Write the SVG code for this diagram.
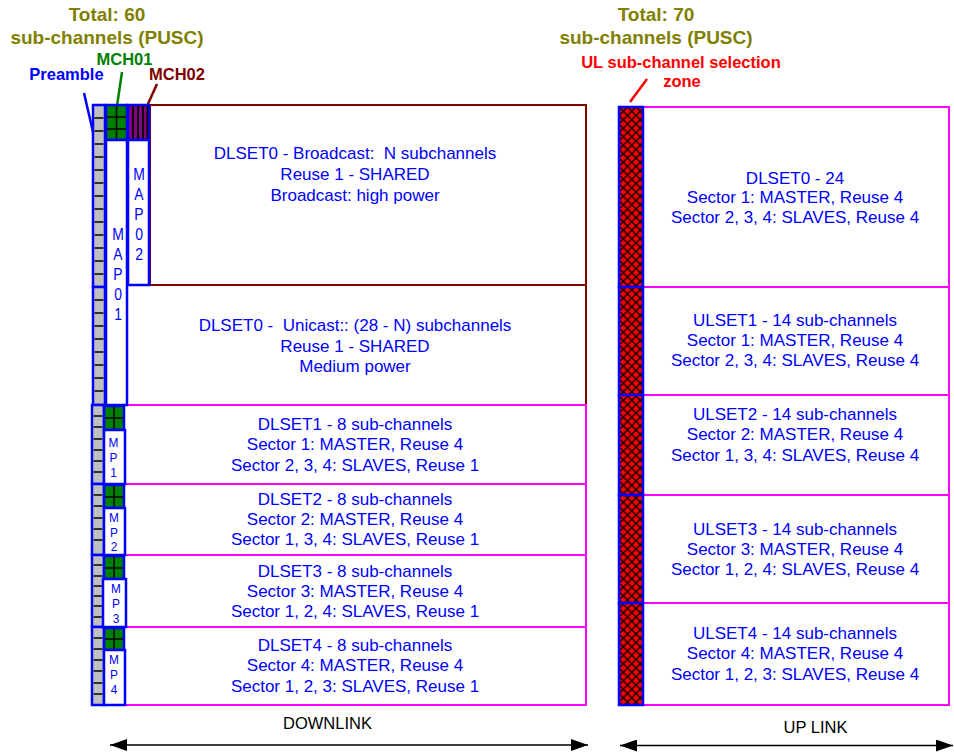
<svg xmlns="http://www.w3.org/2000/svg" width="954" height="753" viewBox="0 0 954 753">
<defs>
<style>
.dr{fill:#fff;stroke:#800000;stroke-width:2}
.mg{fill:#fff;stroke:#FF00FF;stroke-width:2}
.blw{fill:#fff;stroke:#0000FF;stroke-width:2.5}
.gy{fill:#C0C0C0;stroke:#0000FF;stroke-width:2.5}
.gr{fill:#008000;stroke:#0000FF;stroke-width:2.5}
.pu{fill:#800080;stroke:#0000FF;stroke-width:2.5}
.hz{fill:url(#hatch);stroke:#0000FF;stroke-width:2.5}
.k{stroke:#000;stroke-width:1.5;fill:none}
text{font-family:"Liberation Sans",Arial,Helvetica,sans-serif}
.t{font-size:17px;fill:#0000FF;text-anchor:middle}
.ttl{font-size:19px;font-weight:bold;fill:#808000;text-anchor:middle}
.lb{font-size:16.5px;font-weight:bold;text-anchor:middle}
.v{font-size:17px;fill:#0000FF;text-anchor:middle}
.vs{font-size:12.5px;fill:#0000FF;text-anchor:middle}
.ax{font-size:16.5px;fill:#000;text-anchor:middle}
.ld{stroke-width:2.5;fill:none}
.arr{stroke:#000;stroke-width:1.5;fill:none;marker-start:url(#ah);marker-end:url(#ah)}
</style>
<pattern id="hatch" patternUnits="userSpaceOnUse" width="8.5" height="8.5" x="619" y="107">
<rect width="8.5" height="8.5" fill="#FF0000"/>
<path d="M0,0 L8.5,8.5 M8.5,0 L0,8.5" stroke="#000" stroke-width="1.4"/>
</pattern>
<marker id="ah" markerUnits="userSpaceOnUse" markerWidth="18" markerHeight="12" refX="17" refY="6" orient="auto-start-reverse" viewBox="0 0 18 12">
<path d="M0,0 L17,6 L0,12 z" fill="#000"/>
</marker>
</defs>

<!-- titles and labels -->
<g id="titles">
<text class="ttl" x="107" y="21">Total: 60</text>
<text class="ttl" x="107" y="44">sub-channels (PUSC)</text>
<text class="ttl" x="656" y="21">Total: 70</text>
<text class="ttl" x="656" y="44">sub-channels (PUSC)</text>
<text class="lb" x="124.5" y="65" fill="#008000">MCH01</text>
<text class="lb" x="66.5" y="80" fill="#0000FF">Preamble</text>
<text class="lb" x="177" y="80" fill="#800000">MCH02</text>
<text class="lb" x="681" y="68" fill="#FF0000">UL sub-channel selection</text>
<text class="lb" x="682" y="87" fill="#FF0000">zone</text>
</g>

<!-- connectors: leader lines and direction arrows -->
<g id="connectors">
<line class="ld" x1="84" y1="93" x2="93" y2="132" stroke="#0000FF"/>
<line class="ld" x1="122" y1="72" x2="117" y2="106" stroke="#008000"/>
<line class="ld" x1="157" y1="84" x2="147" y2="106" stroke="#800000"/>
<line class="ld" x1="647" y1="79" x2="630" y2="102" stroke="#FF0000"/>
<line class="arr" x1="110" y1="745" x2="588" y2="745"/>
<line class="arr" x1="620" y1="745.5" x2="953" y2="745.5"/>
</g>

<!-- downlink sets -->
<g id="dlset0-broadcast">
<rect class="dr" x="150" y="105" width="436" height="180"/>
<text class="t" x="355" y="159" xml:space="preserve">DLSET0 - Broadcast:  N subchannels</text>
<text class="t" x="355" y="180">Reuse 1 - SHARED</text>
<text class="t" x="355" y="201">Broadcast: high power</text>
</g>
<g id="dlset0-unicast">
<rect class="dr" x="127" y="285" width="459" height="120"/>
<text class="t" x="355" y="331" xml:space="preserve">DLSET0 -  Unicast:: (28 - N) subchannels</text>
<text class="t" x="355" y="352">Reuse 1 - SHARED</text>
<text class="t" x="355" y="372">Medium power</text>
</g>
<g id="dlset1">
<rect class="mg" x="124" y="405" width="462" height="79"/>
<text class="t" x="355" y="430">DLSET1 - 8 sub-channels</text>
<text class="t" x="355" y="450">Sector 1: MASTER, Reuse 4</text>
<text class="t" x="355" y="471">Sector 2, 3, 4: SLAVES, Reuse 1</text>
</g>
<g id="dlset2">
<rect class="mg" x="124" y="484" width="462" height="71"/>
<text class="t" x="355" y="505">DLSET2 - 8 sub-channels</text>
<text class="t" x="355" y="525">Sector 2: MASTER, Reuse 4</text>
<text class="t" x="355" y="545">Sector 1, 3, 4: SLAVES, Reuse 1</text>
</g>
<g id="dlset3">
<rect class="mg" x="124" y="555" width="462" height="72"/>
<text class="t" x="355" y="577">DLSET3 - 8 sub-channels</text>
<text class="t" x="355" y="597">Sector 3: MASTER, Reuse 4</text>
<text class="t" x="355" y="617">Sector 1, 2, 4: SLAVES, Reuse 1</text>
</g>
<g id="dlset4">
<rect class="mg" x="124" y="627" width="462" height="78"/>
<text class="t" x="355" y="651">DLSET4 - 8 sub-channels</text>
<text class="t" x="355" y="671">Sector 4: MASTER, Reuse 4</text>
<text class="t" x="355" y="692">Sector 1, 2, 3: SLAVES, Reuse 1</text>
</g>

<!-- preamble column -->
<g id="preamble">
<rect class="gy" x="93" y="105" width="12" height="182"/>
<rect class="gy" x="93" y="287" width="12" height="118"/>
<rect class="gy" x="92" y="405" width="12" height="79"/>
<rect class="gy" x="92" y="484" width="12" height="71"/>
<rect class="gy" x="92" y="555" width="12" height="72"/>
<rect class="gy" x="92" y="627" width="12" height="78"/>
<path class="k" d="M94.5,118h9M94.5,131h9M94.5,144h9M94.5,157h9M94.5,170h9M94.5,183h9M94.5,196h9M94.5,209h9M94.5,222h9M94.5,235h9M94.5,248h9M94.5,261h9M94.5,274h9
M94.5,300h9M94.5,313h9M94.5,326h9M94.5,339h9M94.5,352h9M94.5,365h9M94.5,378h9M94.5,391h9
M93.5,416h9M93.5,427h9M93.5,439h9M93.5,450h9M93.5,461h9M93.5,472h9
M93.5,495h9M93.5,506h9M93.5,518h9M93.5,529h9M93.5,540h9
M93.5,565h9M93.5,576h9M93.5,586h9M93.5,596h9M93.5,606h9M93.5,617h9
M93.5,638h9M93.5,649h9M93.5,660h9M93.5,671h9M93.5,683h9M93.5,694h9"/>
</g>

<!-- MCH01 / MAP01 -->
<g id="mch01">
<rect class="gr" x="106" y="105" width="21" height="35"/>
<path class="k" d="M116.5,106v33M107,117h19M107,129h19"/>
</g>
<g id="map01">
<rect class="blw" x="106" y="140" width="21" height="265"/>
<text class="v" transform="translate(118,0) scale(0.82,1)"><tspan x="0" y="240">M</tspan><tspan x="0" y="260">A</tspan><tspan x="0" y="280">P</tspan><tspan x="0" y="300">0</tspan><tspan x="0" y="320">1</tspan></text>
</g>

<!-- MCH02 / MAP02 -->
<g id="mch02">
<rect class="pu" x="128" y="105" width="21" height="35"/>
<path d="M133,106v33M138,106v33M143,106v33M147.5,106v33" stroke="#000" stroke-width="1.8"/>
</g>
<g id="map02">
<rect class="blw" x="128" y="140" width="21" height="145"/>
<text class="v" transform="translate(139,0) scale(0.82,1)"><tspan x="0" y="180">M</tspan><tspan x="0" y="200">A</tspan><tspan x="0" y="220">P</tspan><tspan x="0" y="240">0</tspan><tspan x="0" y="260">2</tspan></text>
</g>

<!-- lower row MCH / MP blocks -->
<g id="mp1">
<rect class="gr" x="104" y="406" width="20" height="24"/>
<path class="k" d="M114,407v22M105,418h18"/>
<rect class="blw" x="104" y="430" width="21" height="54"/>
<text class="vs" transform="translate(113.5,0) scale(0.95,1)"><tspan x="0" y="447">M</tspan><tspan x="0" y="462">P</tspan><tspan x="0" y="477">1</tspan></text>
</g>
<g id="mp2">
<rect class="gr" x="104" y="485" width="20" height="23"/>
<path class="k" d="M114,486v21M105,497h18"/>
<rect class="blw" x="104" y="508" width="21" height="47"/>
<text class="vs" transform="translate(114,0) scale(0.95,1)"><tspan x="0" y="522">M</tspan><tspan x="0" y="537">P</tspan><tspan x="0" y="551">2</tspan></text>
</g>
<g id="mp3">
<rect class="gr" x="104" y="556" width="20" height="23"/>
<path class="k" d="M114,557v21M105,568h18"/>
<rect class="blw" x="103" y="579" width="23" height="48"/>
<text class="vs" transform="translate(116,0) scale(0.95,1)"><tspan x="0" y="593">M</tspan><tspan x="0" y="608">P</tspan><tspan x="0" y="623">3</tspan></text>
</g>
<g id="mp4">
<rect class="gr" x="104" y="628" width="20" height="22"/>
<path class="k" d="M114,629v20M105,639h18"/>
<rect class="blw" x="104" y="650" width="21" height="55"/>
<text class="vs" transform="translate(114,0) scale(0.95,1)"><tspan x="0" y="664">M</tspan><tspan x="0" y="679">P</tspan><tspan x="0" y="694">4</tspan></text>
</g>

<!-- uplink -->
<g id="ul-dlset0">
<rect class="mg" x="643" y="107" width="306" height="180"/>
<text class="t" x="795" y="184">DLSET0 - 24</text>
<text class="t" x="795" y="203">Sector 1: MASTER, Reuse 4</text>
<text class="t" x="795" y="223">Sector 2, 3, 4: SLAVES, Reuse 4</text>
</g>
<g id="ulset1">
<rect class="mg" x="643" y="287" width="306" height="108"/>
<text class="t" x="795" y="326">ULSET1 - 14 sub-channels</text>
<text class="t" x="795" y="346">Sector 1: MASTER, Reuse 4</text>
<text class="t" x="795" y="366">Sector 2, 3, 4: SLAVES, Reuse 4</text>
</g>
<g id="ulset2">
<rect class="mg" x="643" y="395" width="306" height="100"/>
<text class="t" x="795" y="420">ULSET2 - 14 sub-channels</text>
<text class="t" x="795" y="440">Sector 2: MASTER, Reuse 4</text>
<text class="t" x="795" y="461">Sector 1, 3, 4: SLAVES, Reuse 4</text>
</g>
<g id="ulset3">
<rect class="mg" x="643" y="495" width="306" height="108"/>
<text class="t" x="795" y="535">ULSET3 - 14 sub-channels</text>
<text class="t" x="795" y="555">Sector 3: MASTER, Reuse 4</text>
<text class="t" x="795" y="575">Sector 1, 2, 4: SLAVES, Reuse 4</text>
</g>
<g id="ulset4">
<rect class="mg" x="643" y="603" width="306" height="102"/>
<text class="t" x="795" y="639">ULSET4 - 14 sub-channels</text>
<text class="t" x="795" y="659">Sector 4: MASTER, Reuse 4</text>
<text class="t" x="795" y="680">Sector 1, 2, 3: SLAVES, Reuse 4</text>
</g>
<g id="ul-zone">
<rect class="hz" x="619" y="107" width="24" height="180"/>
<rect class="hz" x="619" y="287" width="24" height="108"/>
<rect class="hz" x="619" y="395" width="24" height="100"/>
<rect class="hz" x="619" y="495" width="24" height="108"/>
<rect class="hz" x="619" y="603" width="24" height="102"/>
</g>

<g id="axis-labels">
<text class="ax" x="327.5" y="729">DOWNLINK</text>
<text class="ax" x="815.5" y="733">UP LINK</text>
</g>
</svg>
